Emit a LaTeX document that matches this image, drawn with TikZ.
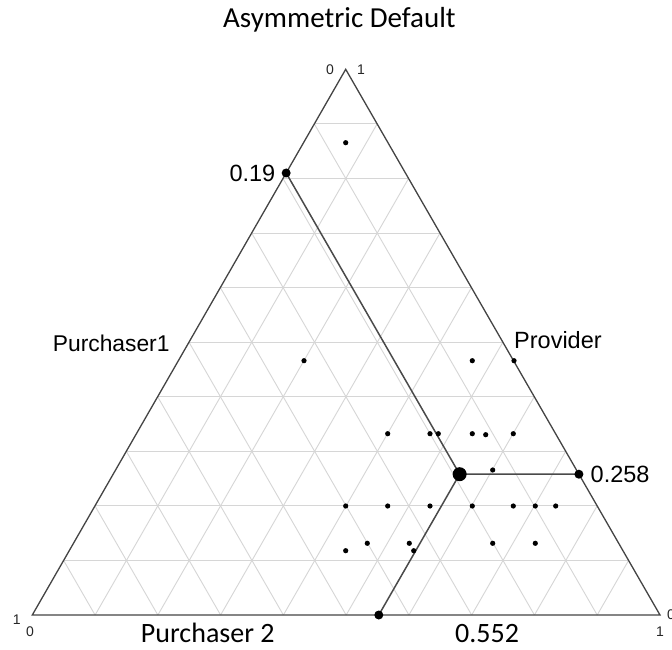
\documentclass[tikz,border=0pt]{standalone}
\usepackage{fontspec}
\setmainfont{Liberation Sans}
\newfontfamily\calfont{Carlito}
\usetikzlibrary{calc}
\definecolor{gridgray}{HTML}{D6D6D6}
\definecolor{edgegray}{HTML}{444444}
\definecolor{pathgray}{HTML}{4A4A4A}
\tikzset{
  gridline/.style={draw=gridgray, line width=0.9pt},
  edge/.style={draw=edgegray, line width=1.3pt},
  strat/.style={draw=pathgray, line width=1.5pt},
  dot/.style={fill=black, circle, inner sep=0pt, minimum size=5.2pt},
  enddot/.style={fill=black, circle, inner sep=0pt, minimum size=9pt},
  bigdot/.style={fill=black, circle, inner sep=0pt, minimum size=14pt},
  arial/.style={font=\fontsize{23.5}{28}\selectfont, inner sep=0pt},
  cal/.style={font=\calfont\fontsize{28}{32}\selectfont, inner sep=0pt},
  tick/.style={font=\fontsize{14}{16}\selectfont, inner sep=0pt, text=black!85},
}
\begin{document}
\begin{tikzpicture}[x=1pt, y=-1pt]
\useasboundingbox (0,0) rectangle (672,650);
\fill[white] (0,0) rectangle (672,650);

% corners of the simplex
\coordinate (A) at (32.3,615);
\coordinate (B) at (660,615);
\coordinate (C) at (345.7,69.3);

% light grid, ten divisions per side
\foreach \f in {0.1,0.2,...,0.95} {
  \draw[gridline] ($(A)!\f!(C)$) -- ($(B)!\f!(C)$);
  \draw[gridline] ($(A)!\f!(B)$) -- ($(A)!\f!(C)$);
  \draw[gridline] ($(B)!\f!(A)$) -- ($(B)!\f!(C)$);
}

% outline
\draw[edge] (A) -- (B) -- (C) -- cycle;

% equilibrium lines
\coordinate (L) at ($(C)!0.19!(A)$);
\coordinate (R) at ($(B)!0.258!(C)$);
\coordinate (D) at ($(A)!0.552!(B)$);
\coordinate (M) at ($(D)+0.258*($(C)-(A)$)$);
\draw[strat] (L) -- (M) -- (R);
\draw[strat] (M) -- (D);

\node[enddot] (nL) at (L) {};
\node[enddot] (nR) at (R) {};
\node[enddot] (nD) at (D) {};
\node[bigdot] (nM) at (M) {};

% sampled points
\foreach \px/\py [count=\i] in {
  345.7/142.7,
  304/360.7, 472.3/360.7, 514/360.7,
  387.7/433.7, 430/433.7, 438.3/433.7, 472.3/433.7, 485.7/434.7, 513.3/433.7,
  492.7/470,
  345.7/506, 387.7/506, 430/506, 472.3/506, 513.3/506, 535.3/506, 555.7/506,
  367.3/543.3, 409.3/543.3, 492.7/543.3, 535.3/543.3,
  345.7/550.7, 413.7/550.7}
  \node[dot] (p\i) at (\px,\py) {};

% value labels
\node[arial, anchor=east] (l19) at (275.5,173) {0.19};
\node[arial, anchor=west] (l258) at (590.5,474.2) {0.258};
\node[cal, anchor=base west] (l552) at (455,642.5) {0.552};

% axis names
\node[cal, anchor=base west, font=\calfont\fontsize{29}{33}\selectfont] (title) at (223,27.5) {Asymmetric Default};
\node[arial, anchor=base west, font=\fontsize{22.8}{27}\selectfont] (p1) at (52.7,351.5) {Purchaser1};
\node[arial, anchor=base west] (pv) at (514,348.5) {Provider};
\node[cal, anchor=base west] (p2) at (140.7,642) {Purchaser 2};

% corner ticks
\node[tick] (t0c) at (330,69.5) {0};
\node[tick] (t1c) at (361,69.5) {1};
\node[tick] (t1a) at (16.7,620) {1};
\node[tick] (t0a) at (30,632) {0};
\node[tick] (t1b) at (660,632) {1};
\node[tick] (t0b) at (671,615) {0};
\end{tikzpicture}
\end{document}
